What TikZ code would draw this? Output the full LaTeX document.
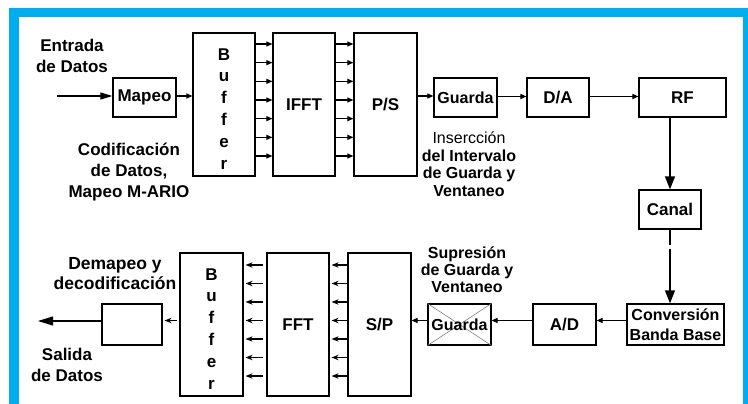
\documentclass[tikz,border=0pt]{standalone}
\usepackage{fontspec}
\setmainfont{Liberation Sans}
\usetikzlibrary{arrows.meta,calc}
\definecolor{frameblue}{RGB}{0,174,239}
\begin{document}
\begin{tikzpicture}[x=1pt,y=-1pt,
  blk/.style={draw,line width=1.2pt,rectangle,inner sep=0pt,align=center,
    font=\bfseries\fontsize{17}{21}\selectfont},
  bufbox/.style={blk,minimum width=62pt,minimum height=143pt,
    font=\bfseries\fontsize{17}{21.8}\selectfont},
  smallbox/.style={blk,minimum height=39pt},
  lbl/.style={inner sep=0pt,align=center,font=\bfseries\fontsize{17}{21}\selectfont},
  conn/.style={line width=1.1pt},
  bus/.style={conn,-{Triangle[length=6pt,width=5pt]}},
  rbus/.style={conn,-{Stealth[length=7pt,width=5.5pt]}},
  bigarrow/.style={line width=1.3pt,-{Triangle[length=13pt,width=10pt]}},
]
\useasboundingbox (0,0) rectangle (748,404);
% frame
\fill[frameblue] (9,8) rectangle (748,404);
\fill[white] (19,17) rectangle (743,404);

% top row
\node[smallbox,minimum width=63pt] (mapeo) at (144.5,97.5) {Mapeo};
\node[bufbox] (buf1) at (224,104.5) {\rule{0pt}{20pt}B\\u\\f\\f\\e\\r};
\node[blk,minimum width=62pt,minimum height=143pt] (ifft) at (304,104.5) {IFFT};
\node[blk,minimum width=63pt,minimum height=143pt] (ps) at (385.5,104.5) {P/S};
\node[smallbox,minimum width=63pt,font=\bfseries\fontsize{16}{19}\selectfont] (guarda1) at (465.5,97.5) {Guarda};
\node[smallbox,minimum width=62pt] (da) at (558,97.5) {D/A};
\node[smallbox,minimum width=87pt] (rf) at (682.5,97.5) {RF};
\node[smallbox,minimum width=62pt] (canal) at (670,209.5) {Canal};

% bottom row
\node[blk,minimum width=97pt,minimum height=41pt,font=\bfseries\fontsize{16}{19.5}\selectfont] (conv) at (675.5,324.5) {Conversión\\Banda Base};
\node[blk,minimum width=63pt,minimum height=41pt] (ad) at (564.5,324.5) {A/D};
\node[blk,minimum width=63pt,minimum height=41pt] (guarda2) at (459.5,324.5) {};
\draw[gray,line width=0.6pt] (guarda2.north west) -- (guarda2.south east);
\draw[gray,line width=0.6pt] (guarda2.south west) -- (guarda2.north east);
\node[inner sep=0pt,font=\bfseries\fontsize{16}{19}\selectfont] at (guarda2.center) {Guarda};
\node[blk,minimum width=63pt,minimum height=143pt] (sp) at (379.5,324.5) {S/P};
\node[blk,minimum width=62pt,minimum height=143pt] (fft) at (298,324.5) {FFT};
\node[bufbox,minimum width=63pt] (buf2) at (211.5,324.5) {\rule{0pt}{20pt}B\\u\\f\\f\\e\\r};
\node[blk,minimum width=60pt,minimum height=41pt] (demap) at (132,324.5) {};

% labels
\node[lbl] (lin) at (72,56.3) {Entrada\\de Datos};
\node[lbl] (lcod) at (129,172.2) {Codificación\\de Datos,\\Mapeo M-ARIO};
\node[lbl,font=\bfseries\fontsize{16}{17.8}\selectfont] (lins) at (469,164.2) {\mdseries Insercción\\del Intervalo\\de Guarda y\\Ventaneo};
\node[lbl,font=\bfseries\fontsize{16}{17}\selectfont] (lsup) at (467,269.9) {Supresión\\de Guarda y\\Ventaneo};
\node[lbl,font=\bfseries\fontsize{17.5}{20}\selectfont] (ldem) at (115,274) {Demapeo y\\decodificación};
\node[lbl] (lout) at (67,364.5) {Salida\\de Datos};

% coordinates
\coordinate (in) at (57,96);
\coordinate (out) at (38,321);
\coordinate (gapA) at (670,245);
\coordinate (gapB) at (670,248.5);

% top connectors
\draw[conn,-{Triangle[length=12pt,width=7pt]}] (in) -- (in -| mapeo.west);
\draw[bus] ([yshift=1.5]mapeo.east) -- ([yshift=1.5]mapeo.east -| buf1.west);
\foreach \k in {0,...,6}{
  \draw[bus] ([yshift={60.5-18.667*\k}]buf1.east) -- ([yshift={60.5-18.667*\k}]ifft.west);
  \draw[bus] ([yshift={60.5-18.667*\k}]ifft.east) -- ([yshift={60.5-18.667*\k}]ps.west);
}
\draw[bus] ([yshift=1.5]guarda1.west -| ps.east) -- ([yshift=1.5]guarda1.west);
\draw[bus] ([yshift=1]guarda1.east) -- ([yshift=1]da.west);
\draw[bus] ([yshift=1]da.east) -- ([yshift=1]rf.west);
\draw[bigarrow] (rf.south -| canal.north) -- (canal.north);
\draw[line width=1.3pt] (canal.south) -- (gapA);
\draw[bigarrow] (gapB) -- (gapB |- conv.north);

% bottom connectors
\draw[bus] ([yshift=4]conv.west) -- ([yshift=4]ad.east);
\draw[bus] ([yshift=4]ad.west) -- ([yshift=4]guarda2.east);
\draw[bus] ([yshift=4]guarda2.west) -- ([yshift=4]guarda2.west -| sp.east);
\foreach \k in {0,...,6}{
  \draw[rbus,shorten >=2pt] ([yshift={59.5-18.5*\k}]sp.west) -- ([yshift={59.5-18.5*\k}]fft.east);
  \draw[rbus,shorten <=3pt,shorten >=2pt] ([yshift={59.5-18.5*\k}]fft.west) -- ([yshift={59.5-18.5*\k}]buf2.east);
}
\draw[rbus,shorten <=2pt,shorten >=2pt] ([yshift=4]buf2.west) -- ([yshift=4]buf2.west -| demap.east);
\draw[conn,-{Triangle[length=15pt,width=9pt]}] ([yshift=3.5]demap.west) -- (out);
\end{tikzpicture}
\end{document}
